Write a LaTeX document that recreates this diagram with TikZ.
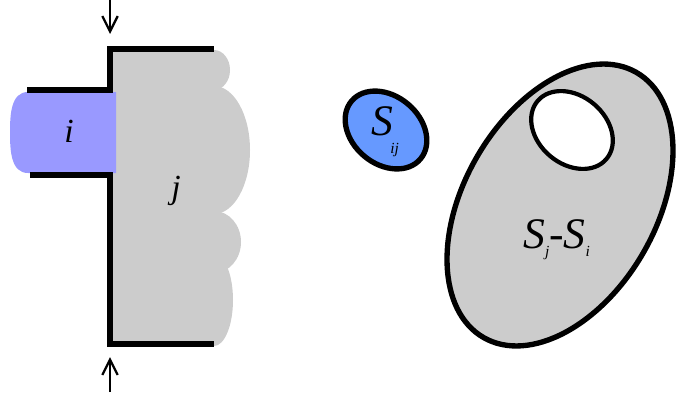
\documentclass[tikz,border=0pt]{standalone}
\usepackage{fontspec}
\setmainfont{Liberation Serif}
\usepackage{xcolor}
\usetikzlibrary{arrows.meta}
\usetikzlibrary{math}

\definecolor{cloudgray}{HTML}{CCCCCC}
\definecolor{iblue}{HTML}{9999FF}
\definecolor{setblue}{HTML}{6699FF}
\newcommand{\lsub}[2]{\raisebox{-#1}{\fontsize{11}{12}\selectfont #2}}

\begin{document}
\begin{tikzpicture}[x=0.025cm,y=-0.025cm,
  wall/.style={line width=3.8pt},
  push/.style={line width=1.6pt,-{Straight Barb[length=11pt,width=11pt]}},
  lbl/.style={inner sep=0pt,font=\fontsize{24}{28}\selectfont\itshape},
  setlbl/.style={inner sep=0pt,font=\fontsize{31}{34}\selectfont\itshape}]
\tikzmath{
\xw=110; % wall
\xe=214;
\yt=49;
\yb=344;
\yit=90;
\yib=175;
}
\useasboundingbox (0,0) rectangle (676,394);

% body j
\fill[cloudgray] (\xw,\yt) rectangle (\xe,\yb);
\foreach \cy/\rx/\ry in {70/16/20, 150/36/64, 242/27/31, 300/19/46}
  \fill[cloudgray] (\xe,\cy) ellipse ({\rx} and {\ry});

% body i
\fill[iblue] (116,92) -- (28,92) to[out=180,in=90] (10,132)
  to[out=-90,in=180] (28,173) -- (116,173) -- cycle;

\draw[wall] (27,\yit) -- (\xw,\yit) -- (\xw,\yt) -- (\xe,\yt);
\draw[wall] (30,\yib) -- (\xw,\yib) -- (\xw,\yb) -- (\xe,\yb);

\node[lbl,anchor=base] (ilbl) at (69,142) {i};
\node[lbl,anchor=base] (jlbl) at (176,198) {j};

% pressing arrows
\coordinate (topfrom) at (\xw,0);
\coordinate (topto) at (\xw,34);
\coordinate (botfrom) at (\xw,392);
\coordinate (botto) at (\xw,357);
\draw[push] (topfrom) -- (topto);
\draw[push] (botfrom) -- (botto);

% sets
\begin{scope}[shift={(386,130)},rotate=-40]
\draw[line width=3.8pt,fill=setblue] (0,0) ellipse (45 and 34);
\end{scope}

\begin{scope}[shift={(560,205)},rotate=60]
\draw[line width=3.8pt,fill=cloudgray] (0,0) ellipse (153 and 96);
\end{scope}

\begin{scope}[shift={(572,130)},rotate=-40]
\draw[line width=3pt,fill=white] (0,0) ellipse (45 and 34);%hole
\end{scope}

\node[setlbl,anchor=base west] (sij) at (371,135) {S\kern-2pt\lsub{13pt}{ij}};
\node[setlbl,anchor=base west] (sdiff) at (523,248) {S\lsub{6pt}{j}-S\lsub{6pt}{i}};

\end{tikzpicture}
\end{document}
